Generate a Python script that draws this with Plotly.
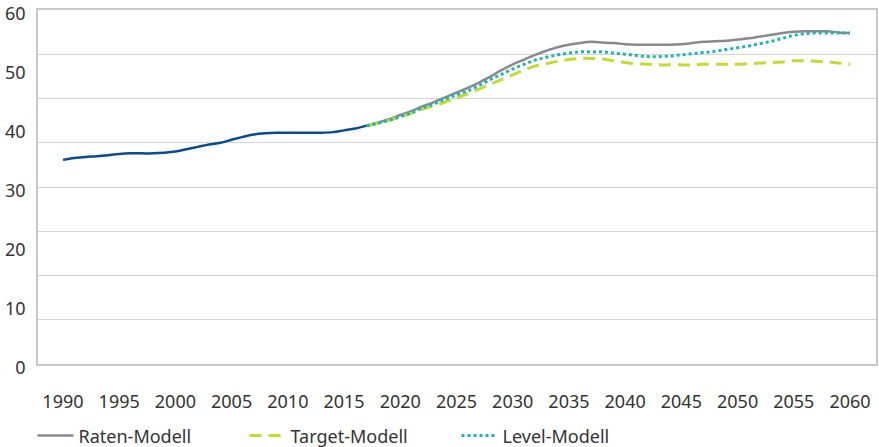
import plotly.graph_objects as go

# historical values 1990-2017
hist_years = list(range(1990, 2018))
hist_values = [34.6, 34.9, 35.1, 35.2, 35.4, 35.6, 35.7, 35.7, 35.7, 35.8,
               36.0, 36.4, 36.8, 37.2, 37.5, 38.0, 38.5, 38.9, 39.1, 39.2,
               39.2, 39.2, 39.2, 39.2, 39.3, 39.6, 39.9, 40.4]

# projections 2017-2060
proj_years = list(range(2017, 2061))
raten = [40.4, 40.9, 41.5, 42.2, 42.9, 43.7, 44.4, 45.2, 46.0, 46.8,
         47.7, 48.7, 49.8, 50.8, 51.6, 52.4, 53.1, 53.7, 54.1, 54.4,
         54.6, 54.5, 54.4, 54.2, 54.1, 54.1, 54.1, 54.1, 54.2, 54.4,
         54.6, 54.7, 54.8, 55.0, 55.2, 55.5, 55.8, 56.1, 56.3, 56.4,
         56.4, 56.4, 56.2, 56.1]
target = [40.3, 40.8, 41.3, 41.9, 42.5, 43.2, 43.8, 44.4, 45.1, 45.8,
          46.6, 47.4, 48.2, 49.0, 49.8, 50.5, 50.9, 51.3, 51.6, 51.8,
          51.8, 51.7, 51.4, 51.1, 50.9, 50.8, 50.7, 50.7, 50.7, 50.7,
          50.8, 50.8, 50.8, 50.8, 50.9, 51.0, 51.1, 51.2, 51.4, 51.4,
          51.3, 51.2, 51.0, 50.8]
level = [40.4, 40.8, 41.3, 41.9, 42.6, 43.4, 44.1, 44.9, 45.6, 46.3,
         47.2, 48.2, 49.1, 50.0, 50.8, 51.5, 52.0, 52.4, 52.7, 52.9,
         52.9, 52.9, 52.7, 52.5, 52.3, 52.1, 52.1, 52.2, 52.4, 52.6,
         52.8, 53.0, 53.3, 53.6, 53.9, 54.3, 54.7, 55.2, 55.7, 56.0,
         56.1, 56.1, 56.1, 56.1]

x_ticks = list(range(1990, 2061, 5))
y_ticks = list(range(0, 61, 10))
y_grid = [i * 7.5 for i in range(9)]  # gridlines in the original don't follow the labels

font = dict(family="Noto Sans, Open Sans, sans-serif", size=18, color="#333333")

fig = go.Figure()
fig.add_trace(go.Scatter(x=proj_years, y=raten, mode='lines', name='Raten-Modell',
                         line=dict(color='#8a8a8e', width=2.5, shape='spline')))
fig.add_trace(go.Scatter(x=proj_years, y=target, mode='lines', name='Target-Modell',
                         line=dict(color='#c5da2e', width=3, dash='12px,7px', shape='spline')))
fig.add_trace(go.Scatter(x=proj_years, y=level, mode='lines', name='Level-Modell',
                         line=dict(color='#19b5b8', width=3, dash='dot', shape='spline')))
fig.add_trace(go.Scatter(x=hist_years, y=hist_values, mode='lines', showlegend=False,
                         line=dict(color='#0b4a8c', width=2.5, shape='spline')))

fig.update_layout(
    width=879, height=447,
    margin=dict(l=38, r=3, t=10, b=83),
    plot_bgcolor='white', paper_bgcolor='white',
    font=font,
    showlegend=True,
    legend=dict(orientation='h', xref='container', x=0.037, xanchor='left',
                yref='container', y=0.025, yanchor='middle',
                entrywidth=161, entrywidthmode='pixels', itemwidth=36, font=font,
                bgcolor='rgba(0,0,0,0)'),
    xaxis=dict(range=[1987.78, 2062.31], tickvals=x_ticks, showgrid=False,
               zeroline=False, ticks='', ticklabelstandoff=21, automargin=False,
               showline=True, mirror=True, linecolor='#c8c8c8', linewidth=1.5),
    yaxis=dict(range=[0, 60], tickvals=y_ticks, showgrid=False,
               minor=dict(tickvals=y_grid, showgrid=True, gridcolor='#d4d4d4', gridwidth=1.2),
               zeroline=False, ticks='', ticklabelstandoff=7, ticklabelshift=4,
               automargin=False,
               showline=True, mirror=True, linecolor='#c8c8c8', linewidth=1.5),
)

fig.write_html("out.html", config={'displayModeBar': False},
               post_script="document.body.style.margin='0';")
